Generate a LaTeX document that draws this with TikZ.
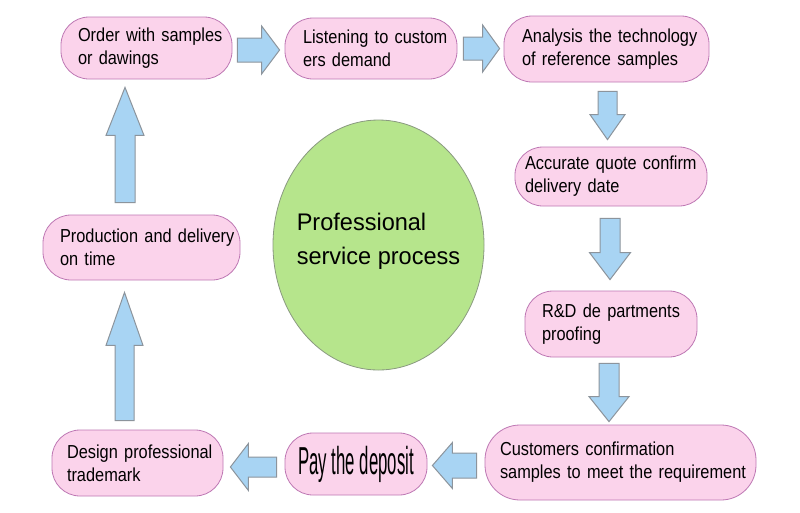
\documentclass[tikz,border=0pt]{standalone}
\usepackage{fontspec}
\setmainfont{Liberation Sans}
\newfontfamily\nodefont[FakeStretch=0.87]{Liberation Sans}
\newfontfamily\payfont[FakeStretch=0.43]{Liberation Sans}
\newfontfamily\ellfont[FakeStretch=0.98]{Liberation Sans}
\usetikzlibrary{calc,shapes.geometric}
\definecolor{boxpink}{RGB}{251,211,235}
\definecolor{boxline}{RGB}{190,120,180}
\definecolor{ellgreen}{RGB}{182,229,140}
\definecolor{ellline}{RGB}{138,154,128}
\definecolor{arrblue}{RGB}{168,212,243}
\definecolor{arrline}{RGB}{140,148,156}
% block arrow: #1 tail, #2 tip, #3 shaft half width, #4 head half width, #5 head length
\newcommand\barrow[5]{%
  \coordinate (hb) at ($(#2)!#5!(#1)$);
  \draw[blockarrow] ($(#1)!#3!90:(#2)$) -- ($(hb)!#3!90:(#2)$) -- ($(hb)!#4!90:(#2)$) -- (#2)
    -- ($(hb)!#4!-90:(#2)$) -- ($(hb)!#3!-90:(#2)$) -- ($(#1)!#3!-90:(#2)$) -- cycle;}
\begin{document}
\begin{tikzpicture}[x=1pt,y=-1pt,
  box/.style={draw=boxline, line width=0.8pt, fill=boxpink, rounded corners=28pt,
    align=left, inner ysep=0pt, font=\nodefont\fontsize{18.8}{23}\selectfont},
  ellnode/.style={ellipse, draw=ellline, line width=0.8pt, fill=ellgreen, inner sep=0pt},
  elltext/.style={align=left, inner sep=0pt, font=\ellfont\fontsize{24}{34}\selectfont},
  blockarrow/.style={draw=arrline, line width=1pt, fill=arrblue, line join=miter},
]
\fill[white] (0,0) rectangle (800,512);
\useasboundingbox (0,0) rectangle (800,512);

\node[box, minimum width=171pt, minimum height=62pt, text width=137pt, inner xsep=17pt] (n1) at (146.5,48) {\mbox{Order with samples}\\\mbox{or dawings}};
\node[box, minimum width=172pt, minimum height=61pt, text width=136pt, inner xsep=18pt] (n2) at (371,48.5) {\mbox{Listening to custom}\\\mbox{ers demand}};
\node[box, minimum width=205pt, minimum height=66pt, text width=169pt, inner xsep=18pt] (n3) at (606.5,49) {\mbox{Analysis the technology}\\\mbox{of reference samples}};
\node[box, minimum width=192pt, minimum height=59pt, text width=172pt, inner xsep=10pt] (n4) at (611,176.5) {\mbox{Accurate quote confirm}\\\mbox{delivery date}};
\node[box, minimum width=172pt, minimum height=66pt, text width=138pt, inner xsep=17pt] (n5) at (611,324) {\mbox{R\&D de partments}\\\mbox{proofing}};
\node[box, rounded corners=35pt, minimum width=271pt, minimum height=75pt, text width=241pt, inner xsep=15pt] (n6) at (620.5,462.5) {\mbox{Customers confirmation}\\\mbox{samples to meet the requirement}};
\node[box, minimum width=142pt, minimum height=62pt, inner xsep=0pt, align=center, font=\payfont\fontsize{39}{40}\selectfont] (n7) at (356,464) {Pay the deposit};
\node[box, minimum width=171pt, minimum height=66pt, text width=141pt, inner xsep=15pt] (n8) at (137.5,463) {\mbox{Design professional}\\\mbox{trademark}};
\node[box, minimum width=197pt, minimum height=65pt, text width=163pt, inner xsep=17pt] (n9) at (141.5,247.5) {\mbox{Production and delivery}\\\mbox{on time}};

\node[ellnode, minimum width=211pt, minimum height=250pt] (ell) at (378.5,245) {};
\node[elltext] (elltxt) at ($(ell.center)+(0,-4)$) {Professional\\service process};

% arrows
\coordinate (t1) at ($(n1.east)+(5,2)$);
\coordinate (h1) at ($(t1 -| n2.west)+(-5,0)$);
\barrow{t1}{h1}{12pt}{24pt}{18pt}
\coordinate (t2) at ($(n2.east)+(6,0)$);
\coordinate (h2) at ($(t2 -| n3.west)+(-4,0)$);
\barrow{t2}{h2}{11.5pt}{23.5pt}{17pt}
\coordinate (t3) at ($(n3.south)+(1,9)$);
\coordinate (h3) at ($(t3 |- n4.north)+(0,-7)$);
\barrow{t3}{h3}{9.5pt}{17.5pt}{25pt}
\coordinate (t4) at ($(n4.south)+(-1,12)$);
\coordinate (h4) at ($(t4 |- n5.north)+(0,-11)$);
\barrow{t4}{h4}{10pt}{20.5pt}{27pt}
\coordinate (t5) at ($(n5.south)+(-2,6)$);
\coordinate (h5) at ($(t5 |- n6.north)+(0,-3)$);
\barrow{t5}{h5}{10pt}{20pt}{25pt}
\coordinate (t6) at ($(n6.west)+(-8,3)$);
\coordinate (h6) at ($(t6 -| n7.east)+(5,0)$);
\barrow{t6}{h6}{12.5pt}{23pt}{20pt}
\coordinate (t7) at ($(n7.west)+(-8,3)$);
\coordinate (h7) at ($(t7 -| n8.east)+(7,0)$);
\barrow{t7}{h7}{10pt}{23.5pt}{18pt}
\coordinate (t8) at ($(n8.north)+(-13,-9)$);
\coordinate (h8) at ($(t8 |- n9.south)+(0,12)$);
\barrow{t8}{h8}{9.5pt}{18.5pt}{53pt}
\coordinate (t9) at ($(n9.north)+(-16.5,-12)$);
\coordinate (h9) at ($(t9 |- n1.south)+(0,8)$);
\barrow{t9}{h9}{10pt}{19pt}{48pt}
\end{tikzpicture}
\end{document}
